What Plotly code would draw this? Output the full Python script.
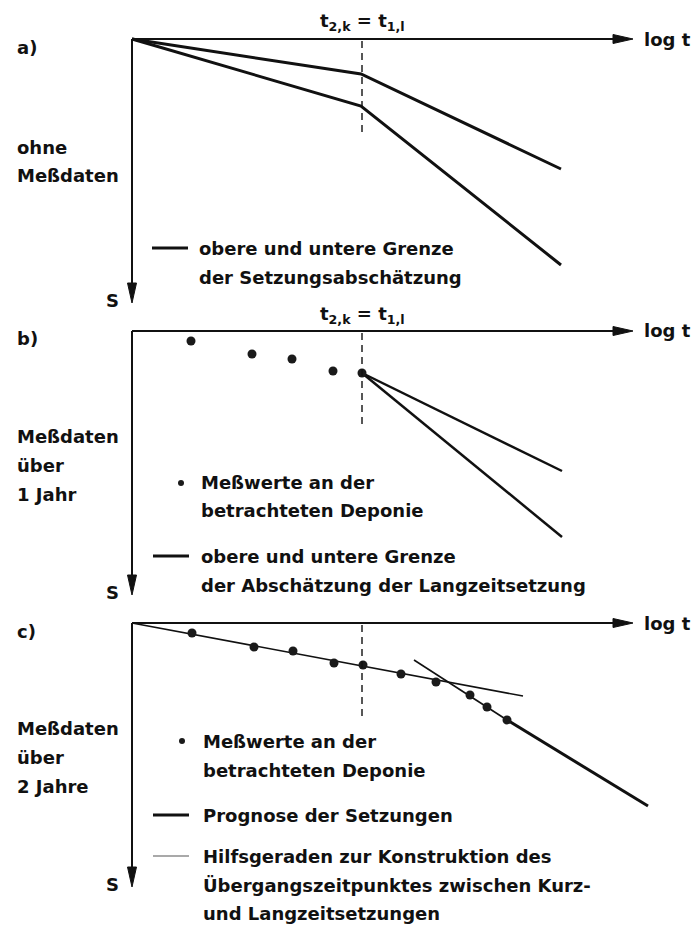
import plotly.graph_objects as go

# ---------------- data (x = log t, S = settlement; arbitrary units) ----------------
T_TRANS = 2.30            # t2,k = t1,l
AXIS_T_END = 5.01
AXIS_S_END = 2.64
DASH_S_END = 0.97

# a) ohne Meßdaten
a_upper_t = [0.0, 2.29, 4.29]
a_upper_s = [0.0, 0.35, 1.30]
a_lower_t = [0.0, 2.29, 4.29]
a_lower_s = [0.0, 0.67, 2.26]

# b) Meßdaten über 1 Jahr
b_meas_t = [0.59, 1.20, 1.60, 2.01, 2.30]
b_meas_s = [0.10, 0.23, 0.28, 0.40, 0.42]
b_upper_t = [2.30, 4.30]
b_upper_s = [0.42, 1.40]
b_lower_t = [2.30, 4.30]
b_lower_s = [0.42, 2.06]

# c) Meßdaten über 2 Jahre
c_meas_t = [0.60, 1.22, 1.61, 2.02, 2.31, 2.69, 3.04, 3.38, 3.55, 3.75]
c_meas_s = [0.10, 0.24, 0.28, 0.40, 0.42, 0.51, 0.59, 0.72, 0.84, 0.97]
c_aux1_t = [0.0, 3.91]
c_aux1_s = [0.0, 0.73]
c_aux2_t = [2.82, 3.75]
c_aux2_s = [0.37, 0.97]
c_prog_t = [3.75, 5.16]
c_prog_s = [0.97, 1.83]

panel_labels = ["a)", "b)", "c)"]
side_texts = [["ohne", "Meßdaten"], ["Meßdaten", "über", "1 Jahr"], ["Meßdaten", "über", "2 Jahre"]]
trans_label = "t<sub>2,k</sub> = t<sub>1,l</sub>"

# ---------------- layout geometry (pixels) ----------------
W, H = 692, 927
PX = 100.0  # pixels per data unit
ORIGIN_X = 132
panels = [  # (top px, bottom px, origin y px)
    (0, 310, 39),
    (310, 600, 331),
    (600, 927, 623),
]

FONT = "'DejaVu Sans', sans-serif"
FS = 18
INK = "#111111"

fig = go.Figure()
layout = dict(width=W, height=H, margin=dict(l=0, r=0, t=0, b=0),
              paper_bgcolor="white", plot_bgcolor="white", showlegend=False,
              font=dict(family=FONT, size=FS, color=INK, weight="bold"))

shapes, annotations = [], []
for i, (top, bot, oy) in enumerate(panels):
    k = "" if i == 0 else str(i + 1)
    layout["xaxis" + k] = dict(domain=[0, 1], range=[-ORIGIN_X / PX, (W - ORIGIN_X) / PX],
                               visible=False, anchor="y" + k, fixedrange=True)
    layout["yaxis" + k] = dict(domain=[1 - bot / H, 1 - top / H],
                               range=[(bot - oy) / PX, (top - oy) / PX],
                               visible=False, anchor="x" + k, fixedrange=True)

xr = lambda i: "x" if i == 0 else "x%d" % (i + 1)
yr = lambda i: "y" if i == 0 else "y%d" % (i + 1)


def line(i, t, s, width, color=INK):
    fig.add_trace(go.Scatter(x=t, y=s, mode="lines", xaxis=xr(i), yaxis=yr(i),
                             line=dict(color=color, width=width), cliponaxis=False,
                             hoverinfo="skip"))


def dots(i, t, s, size=9):
    fig.add_trace(go.Scatter(x=t, y=s, mode="markers", xaxis=xr(i), yaxis=yr(i),
                             marker=dict(color="#1a1a1a", size=size,
                                         line=dict(color="#1a1a1a", width=0)),
                             cliponaxis=False, hoverinfo="skip"))


def text(i, x, y, s, anchor="left", size=FS):
    annotations.append(dict(x=x, y=y, xref=xr(i), yref=yr(i), text=s, showarrow=False,
                            xanchor=anchor, yanchor="middle",
                            font=dict(size=size, family=FONT, color=INK, weight="bold")))


for i in range(3):
    # axes with arrow heads
    hl, hw = 0.20, 0.045
    shapes.append(dict(type="line", xref=xr(i), yref=yr(i), x0=0, y0=0, x1=AXIS_T_END - hl, y1=0,
                       line=dict(color=INK, width=2)))
    shapes.append(dict(type="line", xref=xr(i), yref=yr(i), x0=0, y0=0, x1=0, y1=AXIS_S_END - hl,
                       line=dict(color=INK, width=2)))
    shapes.append(dict(type="path", xref=xr(i), yref=yr(i),
                       path="M %f %f L %f %f L %f %f Z" % (AXIS_T_END, 0, AXIS_T_END - hl, -hw,
                                                          AXIS_T_END - hl, hw),
                       fillcolor=INK, line=dict(color=INK, width=1)))
    shapes.append(dict(type="path", xref=xr(i), yref=yr(i),
                       path="M %f %f L %f %f L %f %f Z" % (0, AXIS_S_END, -hw, AXIS_S_END - hl,
                                                          hw, AXIS_S_END - hl),
                       fillcolor=INK, line=dict(color=INK, width=1)))
    # dashed transition line
    shapes.append(dict(type="line", xref=xr(i), yref=yr(i), x0=T_TRANS, y0=0.02, x1=T_TRANS,
                       y1=DASH_S_END, line=dict(color=INK, width=1.4, dash="7px,5px")))
    # labels
    text(i, 5.10, 0.0, "log t")
    text(i, -0.195, 2.61, "S", anchor="center")
    text(i, -1.17, 0.08, panel_labels[i])

# panel a
line(0, a_upper_t, a_upper_s, 3)
line(0, a_lower_t, a_lower_s, 3)
text(0, T_TRANS, -0.17, trans_label, anchor="center")
for j, s in enumerate(side_texts[0]):
    text(0, -1.17, 1.08 + 0.28 * j, s)
line(0, [0.20, 0.56], [2.09, 2.09], 3)
text(0, 0.65, 2.09, "obere und untere Grenze")
text(0, 0.65, 2.38, "der Setzungsabschätzung")

# panel b
line(1, b_upper_t, b_upper_s, 2.5)
line(1, b_lower_t, b_lower_s, 2.5)
dots(1, b_meas_t, b_meas_s)
text(1, T_TRANS, -0.16, trans_label, anchor="center")
for j, s in enumerate(side_texts[1]):
    text(1, -1.17, 1.06 + 0.29 * j, s)
dots(1, [0.49], [1.52], size=6)
text(1, 0.67, 1.52, "Meßwerte an der")
text(1, 0.67, 1.80, "betrachteten Deponie")
line(1, [0.21, 0.57], [2.25, 2.25], 3)
text(1, 0.67, 2.25, "obere und untere Grenze")
text(1, 0.67, 2.54, "der Abschätzung der Langzeitsetzung")

# panel c
line(2, c_aux1_t, c_aux1_s, 1.6)
line(2, c_aux2_t, c_aux2_s, 1.6)
line(2, c_prog_t, c_prog_s, 3)
dots(2, c_meas_t, c_meas_s)
for j, s in enumerate(side_texts[2]):
    text(2, -1.17, 1.05 + 0.29 * j, s)
dots(2, [0.50], [1.18], size=6)
text(2, 0.69, 1.18, "Meßwerte an der")
text(2, 0.69, 1.47, "betrachteten Deponie")
line(2, [0.21, 0.57], [1.92, 1.92], 3)
text(2, 0.69, 1.92, "Prognose der Setzungen")
line(2, [0.21, 0.57], [2.33, 2.33], 1.2, color="#555555")
text(2, 0.69, 2.33, "Hilfsgeraden zur Konstruktion des")
text(2, 0.69, 2.62, "Übergangszeitpunktes zwischen Kurz-")
text(2, 0.69, 2.90, "und Langzeitsetzungen")

layout["shapes"] = shapes
layout["annotations"] = annotations
fig.update_layout(**layout)
fig.write_html("out.html", config={"displayModeBar": False, "staticPlot": True},
               post_script="document.body.style.margin='0';document.body.style.overflow='hidden';")
